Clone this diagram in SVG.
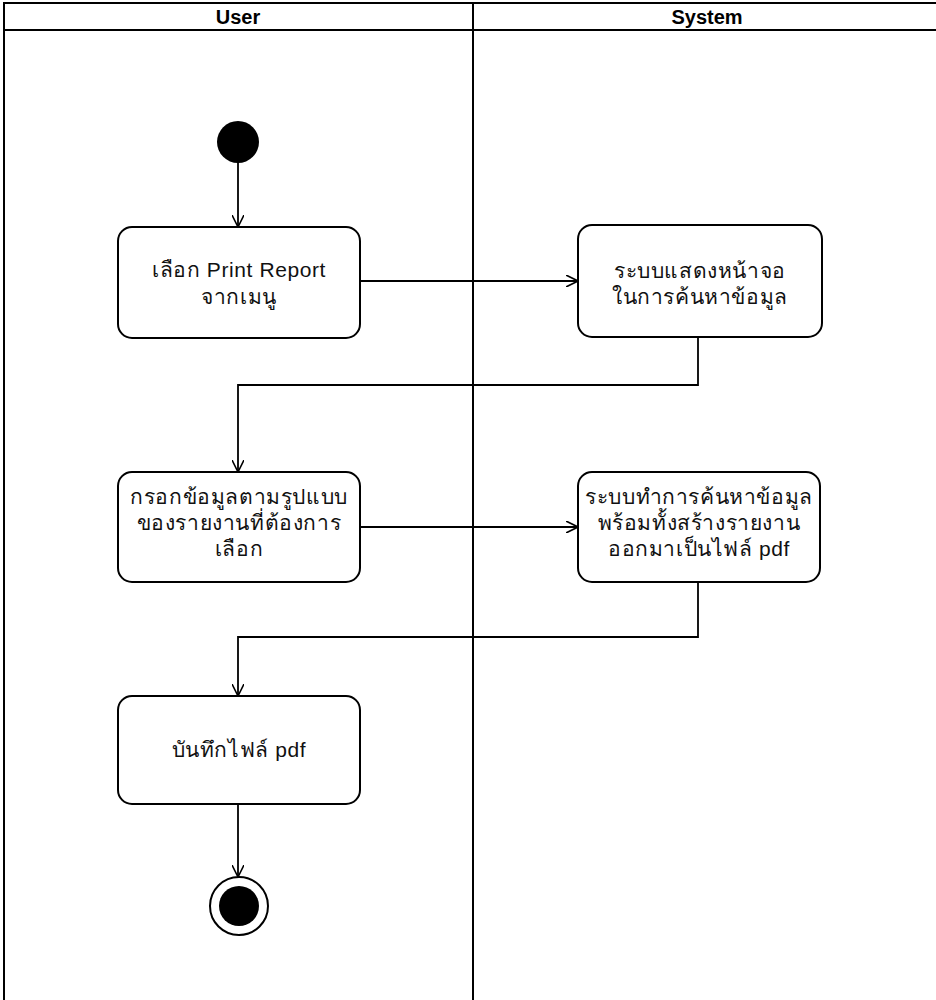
<svg xmlns="http://www.w3.org/2000/svg" width="936" height="1000" viewBox="0 0 936 1000">
<style>
.lane{fill:none;stroke:#000;stroke-width:2}
.hdr{font-family:"Liberation Sans","Noto Sans",sans-serif;font-size:20px;font-weight:bold;text-anchor:middle;fill:#000}
.act{fill:#fff;stroke:#000;stroke-width:2}
.t{font-family:"Liberation Sans","Noto Sans",sans-serif;font-size:21px;letter-spacing:0.6px;text-anchor:middle;fill:#111}
.c{fill:none;stroke:#000;stroke-width:1.8}
</style>
<defs>
<marker id="arr" viewBox="0 0 12 12" refX="12" refY="6" markerWidth="12" markerHeight="12" markerUnits="userSpaceOnUse" orient="auto">
<path d="M0,0 L12,6 L0,12" fill="none" stroke="#000" stroke-width="1.6"/>
</marker>
</defs>
<rect width="936" height="1000" fill="#fff"/>
<g id="swimlanes">
<rect class="lane" x="4" y="3" width="940" height="27"/>
<line class="lane" x1="4" y1="30" x2="4" y2="1000"/>
<line class="lane" x1="473" y1="3" x2="473" y2="1000"/>
<text class="hdr" x="238" y="24">User</text>
<text class="hdr" x="707" y="24">System</text>
</g>
<g id="connectors">
<line class="c" x1="238" y1="163" x2="238" y2="227" marker-end="url(#arr)"/>
<line class="c" x1="360" y1="281" x2="578" y2="281" marker-end="url(#arr)"/>
<polyline class="c" points="698,337 698,385 238,385 238,472" marker-end="url(#arr)"/>
<line class="c" x1="360" y1="527" x2="578" y2="527" marker-end="url(#arr)"/>
<polyline class="c" points="698,582 698,637 238,637 238,696" marker-end="url(#arr)"/>
<line class="c" x1="238" y1="804" x2="238" y2="877" marker-end="url(#arr)"/>
</g>
<g id="start">
<circle cx="238" cy="142" r="21" fill="#000"/>
</g>
<g id="a1">
<rect class="act" x="118" y="227" width="242" height="111" rx="14"/>
<text class="t" x="239" y="277">เลือก Print Report</text>
<text class="t" x="239" y="304">จากเมนู</text>
</g>
<g id="a2">
<rect class="act" x="578" y="225" width="244" height="112" rx="14"/>
<text class="t" x="700" y="278">ระบบแสดงหน้าจอ</text>
<text class="t" x="700" y="304">ในการค้นหาข้อมูล</text>
</g>
<g id="a3">
<rect class="act" x="118" y="472" width="242" height="110" rx="14"/>
<text class="t" x="239" y="504">กรอกข้อมูลตามรูปแบบ</text>
<text class="t" x="239" y="530">ของรายงานที่ต้องการ</text>
<text class="t" x="239" y="556">เลือก</text>
</g>
<g id="a4">
<rect class="act" x="578" y="472" width="242" height="110" rx="14"/>
<text class="t" x="699" y="504">ระบบทำการค้นหาข้อมูล</text>
<text class="t" x="699" y="530">พร้อมทั้งสร้างรายงาน</text>
<text class="t" x="699" y="556">ออกมาเป็นไฟล์ pdf</text>
</g>
<g id="a5">
<rect class="act" x="118" y="696" width="242" height="108" rx="14"/>
<text class="t" x="239" y="757">บันทึกไฟล์ pdf</text>
</g>
<g id="end">
<circle cx="239" cy="906" r="29" fill="#fff" stroke="#000" stroke-width="2"/>
<circle cx="239" cy="906" r="20" fill="#000"/>
</g>
</svg>
